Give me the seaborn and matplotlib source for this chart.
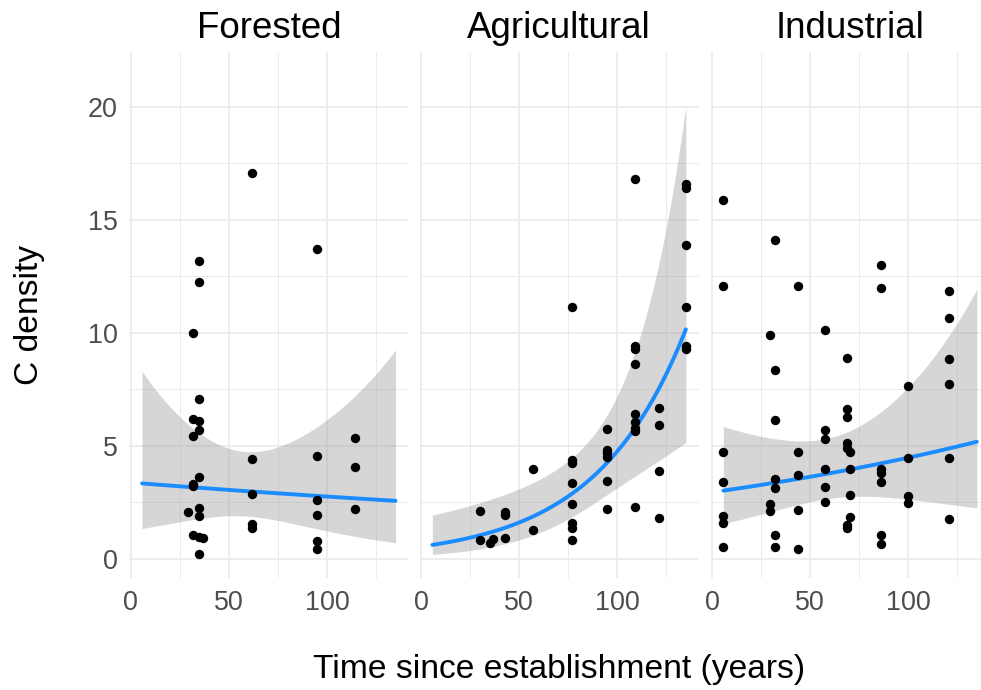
import math
import numpy as np
import pandas as pd
import matplotlib
matplotlib.use("Agg")
import matplotlib.pyplot as plt
import seaborn as sns

# Carbon density by time since establishment, per land-use history
forested_age = [31.6] * 6 + [34.7] * 10 + [29.4, 37.0] + [62.0] * 5 + [95.0] * 6 + [114.4] * 3
forested_c = [10.0, 6.2, 5.45, 3.3, 3.2, 1.05,
              13.15, 12.25, 7.05, 6.1, 5.7, 3.6, 2.25, 1.9, 0.95, 0.2,
              2.05, 0.92,
              17.05, 4.4, 2.85, 1.55, 1.35,
              13.7, 4.55, 2.6, 1.95, 0.78, 0.45,
              5.35, 4.05, 2.2]

agricultural_age = ([30.0] * 2 + [35.1, 36.8] + [42.7] * 3 + [56.9] * 2 + [76.9] * 8 +
                    [94.9] * 6 + [109.0] * 9 + [121.3] * 4 + [135.0] * 6)
agricultural_c = [2.1, 0.83,
                  0.72, 0.86,
                  2.08, 1.93, 0.9,
                  3.97, 1.27,
                  11.15, 4.37, 4.22, 3.36, 2.42, 1.59, 1.34, 0.83,
                  5.75, 4.81, 4.66, 4.52, 3.45, 2.18,
                  16.8, 9.4, 9.3, 8.61, 6.39, 6.05, 5.8, 5.66, 2.27,
                  6.65, 5.93, 3.89, 1.79,
                  16.6, 16.4, 13.88, 11.15, 9.42, 9.26]

industrial_age = ([5.8] * 7 + [29.8] * 3 + [32.0] * 7 + [43.9] * 5 + [57.8] * 6 + [69.0] * 7 +
                  [70.2] * 4 + [85.9] * 7 + [100.0] * 4 + [121.0] * 6)
industrial_c = [15.86, 12.07, 4.74, 3.38, 1.9, 1.59, 0.5,
                9.88, 2.42, 2.12,
                14.1, 8.34, 6.15, 3.53, 3.11, 1.05, 0.5,
                12.07, 4.73, 3.72, 2.14, 0.44,
                10.12, 5.69, 5.28, 3.98, 3.19, 2.5,
                8.88, 6.61, 6.26, 5.1, 4.88, 1.48, 1.35,
                4.74, 3.98, 2.8, 1.86,
                12.98, 11.98, 3.95, 3.78, 3.41, 1.03, 0.65,
                7.66, 4.46, 2.77, 2.45,
                11.86, 10.64, 8.84, 7.74, 4.44, 1.76]

habitats = ["Forested", "Agricultural", "Industrial"]
x_ticks = [0, 50, 100]
y_ticks = [0, 5, 10, 15, 20]
band_level = 0.998

df = pd.concat([
    pd.DataFrame({"habitat": "Forested", "age": forested_age, "c": forested_c}),
    pd.DataFrame({"habitat": "Agricultural", "age": agricultural_age, "c": agricultural_c}),
    pd.DataFrame({"habitat": "Industrial", "age": industrial_age, "c": industrial_c}),
], ignore_index=True)
df["log_c"] = np.log(df["c"])


def normal_quantile(p):
    lo, hi = 0.0, 10.0
    for _ in range(80):
        mid = (lo + hi) / 2
        if 0.5 * (1 + math.erf(mid / math.sqrt(2))) < p:
            lo = mid
        else:
            hi = mid
    return (lo + hi) / 2


# log(C) ~ age * habitat: separate intercepts and slopes, one shared residual variance
fits = {}
rss, dof = 0.0, 0
for hab in habitats:
    sub = df[df["habitat"] == hab]
    X = np.column_stack([np.ones(len(sub)), sub["age"].to_numpy()])
    beta, *_ = np.linalg.lstsq(X, sub["log_c"].to_numpy(), rcond=None)
    r = sub["log_c"].to_numpy() - X @ beta
    rss += r @ r
    dof += len(sub) - 2
    fits[hab] = (beta, np.linalg.inv(X.T @ X))
sigma2 = rss / dof
q = normal_quantile(0.5 + band_level / 2)

sns.set_theme(style="white")
plt.rcParams["font.family"] = ["Liberation Sans", "DejaVu Sans"]

W, H = 981, 690
fig = plt.figure(figsize=(W / 100, H / 100), dpi=100)

panel_left = [129.4, 419.7, 710.7]
panel_w = 278.9
panel_top, panel_bot = 51.7, 578.0
xlim = (-0.66, 141.5)
ylim = (-0.85, 22.43)

grid = np.linspace(df["age"].min(), df["age"].max(), 120)
G = np.column_stack([np.ones_like(grid), grid])
grid_col = "#EBEBEB"

for i, hab in enumerate(habitats):
    ax = fig.add_axes([panel_left[i] / W, 1 - panel_bot / H, panel_w / W, (panel_bot - panel_top) / H])
    sub = df[df["habitat"] == hab]
    beta, xtx_inv = fits[hab]
    eta = G @ beta
    se = np.sqrt(sigma2 * np.einsum("ij,jk,ik->i", G, xtx_inv, G))
    fit_df = pd.DataFrame({"age": grid, "fit": np.exp(eta),
                           "lo": np.exp(eta - q * se), "hi": np.exp(eta + q * se)})

    ax.fill_between(fit_df["age"], fit_df["lo"], fit_df["hi"], color="#999999", alpha=0.4,
                    linewidth=0, zorder=2)
    sns.lineplot(data=fit_df, x="age", y="fit", ax=ax, color="#1A8CFF", linewidth=2.8, zorder=3)
    sns.scatterplot(data=sub, x="age", y="c", ax=ax, color="black", s=46, linewidth=0, zorder=4)

    ax.set_xlim(*xlim)
    ax.set_ylim(*ylim)
    ax.set_xticks(x_ticks)
    ax.set_xticks([25, 75, 125], minor=True)
    ax.set_yticks(y_ticks)
    ax.set_yticks([2.5, 7.5, 12.5, 17.5], minor=True)
    ax.grid(which="major", color=grid_col, linewidth=1.25, zorder=0)
    ax.grid(which="minor", color=grid_col, linewidth=0.7, zorder=0)
    ax.set_axisbelow(True)
    for sp in ax.spines.values():
        sp.set_visible(False)
    ax.tick_params(which="both", length=0, labelsize=19.4, labelcolor="#4D4D4D", pad=8.5)
    ax.set_xlabel("")
    ax.set_ylabel("")
    if i > 0:
        ax.tick_params(axis="y", labelleft=False)
    ax.text(0.5, (panel_bot - 38) / (panel_bot - panel_top), hab, transform=ax.transAxes,
            ha="center", va="baseline", fontsize=26.5, color="black")

fig.text(559 / W, 1 - 677.7 / H, "Time since establishment (years)", ha="center", va="baseline",
         fontsize=24.2, color="black")
fig.text(29.5 / W, 1 - 315 / H, "C density", ha="center", va="center", rotation=90,
         fontsize=24.2, color="black")

fig.savefig("out.png", dpi=100, facecolor="white")
